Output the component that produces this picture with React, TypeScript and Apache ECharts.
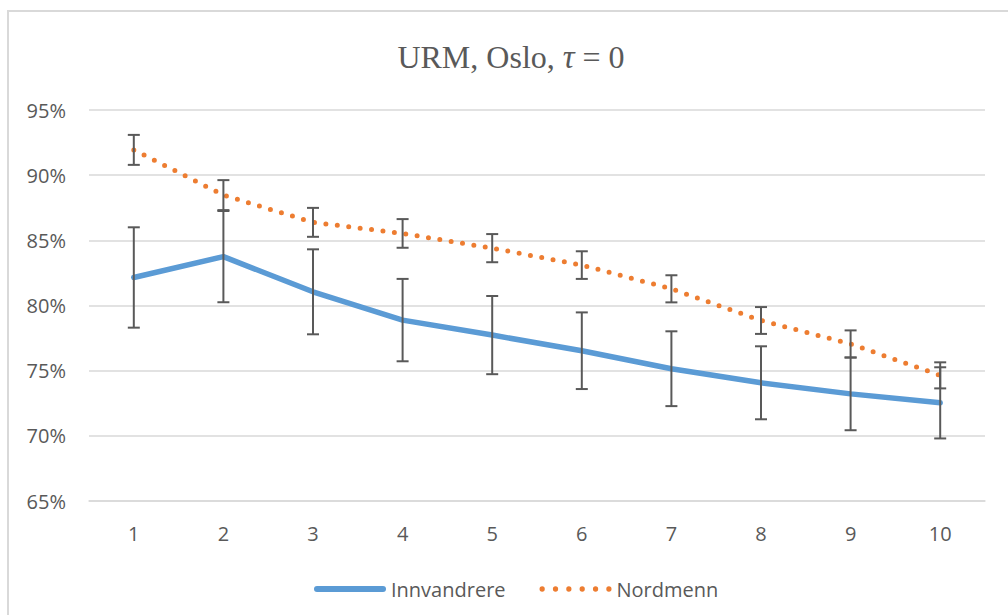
import React, { useEffect, useRef } from "react";
import * as echarts from "echarts";

const categories = ["1", "2", "3", "4", "5", "6", "7", "8", "9", "10"];
const innvandrere = [82.15, 83.75, 81.05, 78.88, 77.73, 76.53, 75.15, 74.07, 73.22, 72.53];
const innvandrereErr = [3.85, 3.5, 3.26, 3.16, 3.0, 2.94, 2.87, 2.8, 2.79, 2.73];
const nordmenn = [91.94, 88.47, 86.38, 85.53, 84.4, 83.1, 81.28, 78.85, 77.05, 74.64];
const nordmennErr = [1.15, 1.15, 1.11, 1.1, 1.08, 1.06, 1.04, 1.03, 1.04, 1.0];
const yTicks = { min: 65, max: 95, interval: 5 };

const AXIS_FONT = "'Open Sans', sans-serif";
const TEXT_COLOR = "#595959";

const SOLID_ICON = "path://M3,0 H69 A3,3 0 0 1 69,6 H3 A3,3 0 0 1 3,0 Z";
const DOT_ICON =
  "path://" +
  [0, 1, 2, 3, 4, 5]
    .map((k) => {
      const cx = 3 + k * 13.2;
      return `M${cx - 2.6},3 A2.6,2.6 0 1 0 ${cx + 2.6},3 A2.6,2.6 0 1 0 ${cx - 2.6},3 Z`;
    })
    .join(" ");

function errorData(vals: number[], errs: number[]) {
  return vals.map((v, i) => [i, v - errs[i], v + errs[i]]);
}

export default function App() {
  const ref = useRef<HTMLDivElement>(null);
  useEffect(() => {
    if (!ref.current) return;
    const chart = echarts.init(ref.current, undefined, { renderer: "svg" });
    const renderErr = (params: any, api: any) => {
      const x = api.value(0);
      const lo = api.value(1);
      const hi = api.value(2);
      const p1 = api.coord([x, hi]);
      const p2 = api.coord([x, lo]);
      const hw = 6;
      const st = { stroke: "#595959", lineWidth: 2 };
      return {
        type: "group",
        children: [
          { type: "line", shape: { x1: p1[0], y1: p1[1], x2: p2[0], y2: p2[1] }, style: st },
          { type: "line", shape: { x1: p1[0] - hw, y1: p1[1], x2: p1[0] + hw, y2: p1[1] }, style: st },
          { type: "line", shape: { x1: p2[0] - hw, y1: p2[1], x2: p2[0] + hw, y2: p2[1] }, style: st },
        ],
      };
    };
    chart.setOption({
      animation: false,
      backgroundColor: "#ffffff",
      graphic: [
        {
          type: "text",
          x: 511,
          y: 57,
          style: {
            text: "URM, Oslo, {i|τ} = 0",
            textAlign: "center",
            textVerticalAlign: "middle",
            fontFamily: "'Liberation Serif', serif",
            fontSize: 32,
            fill: TEXT_COLOR,
            rich: {
              i: {
                fontStyle: "italic",
                fontFamily: "'Liberation Serif', serif",
                fontSize: 33,
                fill: TEXT_COLOR,
              },
            },
          },
        },
      ],
      grid: { left: 89, right: 23, top: 110, bottom: 114, containLabel: false },
      legend: {
        data: [
          { name: "Innvandrere", icon: SOLID_ICON },
          { name: "Nordmenn", icon: DOT_ICON },
        ],
        left: 309,
        top: 574,
        itemWidth: 72,
        itemHeight: 6,
        itemGap: 34,
        textStyle: { fontFamily: AXIS_FONT, fontSize: 20, color: TEXT_COLOR },
      },
      xAxis: {
        type: "category",
        data: categories,
        boundaryGap: true,
        axisLine: { show: true, lineStyle: { color: "#d9d9d9", width: 1.5 } },
        axisTick: { show: false },
        axisLabel: { fontFamily: AXIS_FONT, fontSize: 20, color: TEXT_COLOR, margin: 22 },
      },
      yAxis: {
        type: "value",
        min: yTicks.min,
        max: yTicks.max,
        interval: yTicks.interval,
        axisLine: { show: false },
        axisTick: { show: false },
        axisLabel: {
          formatter: "{value}%",
          fontFamily: AXIS_FONT,
          fontSize: 20,
          color: TEXT_COLOR,
          margin: 23,
        },
        splitLine: { lineStyle: { color: "#d9d9d9", width: 1.5 } },
      },
      series: [
        {
          name: "Innvandrere",
          type: "line",
          data: innvandrere,
          symbol: "none",
          smooth: false,
          color: "#5B9BD5",
          itemStyle: { color: "#5B9BD5" },
          lineStyle: { color: "#5B9BD5", width: 5.5, cap: "round", join: "round" },
          z: 2,
        },
        {
          name: "Nordmenn",
          type: "line",
          data: nordmenn,
          symbol: "none",
          color: "#ED7D31",
          itemStyle: { color: "#ED7D31" },
          lineStyle: { color: "#ED7D31", width: 5, type: [0, 11.5], cap: "round" },
          z: 2,
        },
        {
          name: "errInnv",
          type: "custom",
          data: errorData(innvandrere, innvandrereErr),
          renderItem: renderErr,
          z: 3,
        },
        {
          name: "errNord",
          type: "custom",
          data: errorData(nordmenn, nordmennErr),
          renderItem: renderErr,
          z: 3,
        },
      ],
    });
    return () => chart.dispose();
  }, []);
  return (
    <div style={{ position: "fixed", left: 0, top: 0, width: 1008, height: 615, overflow: "hidden", background: "#fff" }}>
      <div ref={ref} style={{ position: "absolute", left: 0, top: 0, width: 1008, height: 615 }} />
      <div
        style={{
          position: "absolute",
          left: 7,
          top: 10,
          width: 1010,
          height: 620,
          borderLeft: "2px solid #d9d9d9",
          borderTop: "2px solid #d9d9d9",
          pointerEvents: "none",
        }}
      />
    </div>
  );
}
